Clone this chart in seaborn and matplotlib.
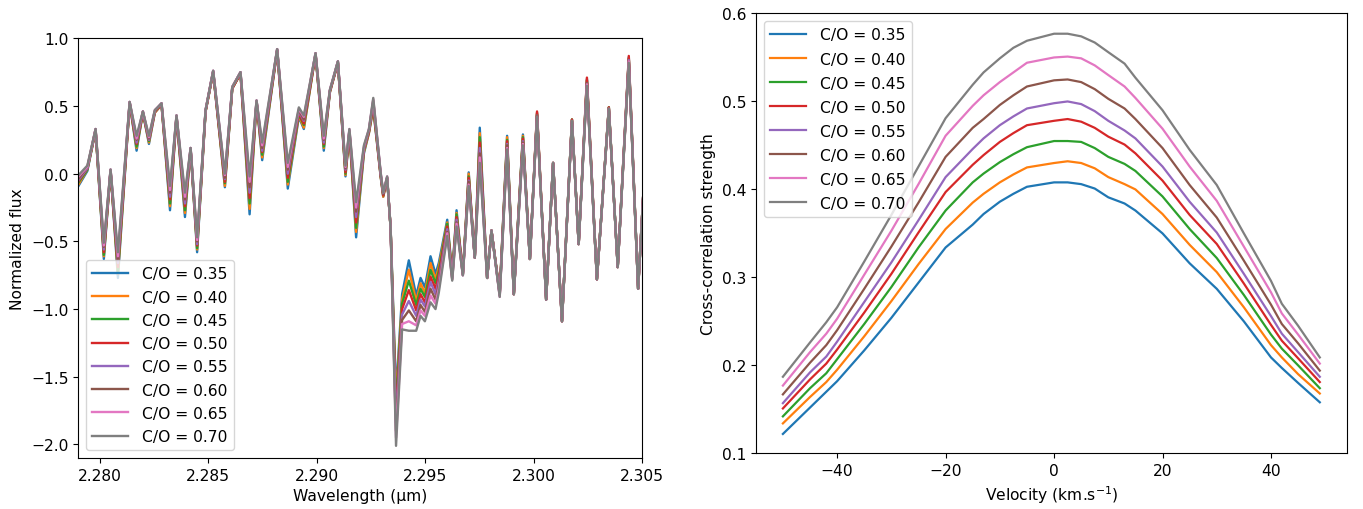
import numpy as np
import pandas as pd
import matplotlib
matplotlib.use("Agg")
import matplotlib.pyplot as plt
import seaborn as sns
from matplotlib.ticker import MultipleLocator, FormatStrFormatter

# C/O ratios of the models
co_ratios = [0.35, 0.40, 0.45, 0.50, 0.55, 0.60, 0.65, 0.70]

# --- left panel: model spectra ---
wavelength = [2.2789, 2.27942, 2.27980, 2.28018, 2.28049, 2.28083, 2.28137, 2.28169, 2.28198, 2.28226,
              2.28253, 2.28284, 2.28323, 2.28353, 2.28392, 2.28418, 2.28448, 2.28487, 2.28522, 2.28576,
              2.28610, 2.28648, 2.28690, 2.28722, 2.28748, 2.28817, 2.28866, 2.28917, 2.28940, 2.28994,
              2.29032, 2.29060, 2.29097, 2.29132, 2.29150, 2.29181, 2.29217, 2.29240, 2.29260, 2.29294,
              2.29306, 2.29324, 2.29340, 2.29365, 2.29393, 2.29424, 2.29458, 2.29478, 2.29498, 2.29524,
              2.29547, 2.29562, 2.29601, 2.29624, 2.29644, 2.29673, 2.29700, 2.29728, 2.29751, 2.29785,
              2.29805, 2.29843, 2.29877, 2.29908, 2.29950, 2.29982, 2.30015, 2.30057, 2.30089, 2.30130,
              2.30176, 2.30207, 2.30245, 2.30291, 2.30346, 2.30387, 2.30438, 2.30481, 2.30510]

flux_035 = [-0.12, 0.02, 0.32, -0.63, 0.02, -0.77, 0.52, 0.17, 0.45, 0.22,
            0.45, 0.51, -0.27, 0.42, -0.32, 0.18, -0.58, 0.46, 0.75, -0.10,
            0.63, 0.74, -0.30, 0.53, 0.10, 0.91, -0.11, 0.42, 0.33, 0.88,
            0.17, 0.60, 0.82, -0.02, 0.30, -0.47, 0.15, 0.30, 0.48, -0.02,
            -0.17, -0.04, -0.40, -1.62, -0.89, -0.64, -0.90, -0.77, -0.84, -0.61,
            -0.74, -0.66, -0.34, -0.74, -0.27, -0.74, 0.01, -0.62, 0.34, -0.77,
            -0.42, -0.88, 0.28, -0.89, 0.29, -0.63, 0.45, -0.93, 0.08, -1.09,
            0.40, -0.52, 0.70, -0.78, 0.49, -0.69, 0.86, -0.85, 0.00]
flux_040 = [-0.11, 0.03, 0.32, -0.61, 0.02, -0.74, 0.52, 0.19, 0.45, 0.23,
            0.45, 0.51, -0.24, 0.42, -0.29, 0.18, -0.56, 0.46, 0.75, -0.09,
            0.63, 0.74, -0.26, 0.53, 0.12, 0.91, -0.08, 0.43, 0.34, 0.88,
            0.19, 0.60, 0.82, -0.01, 0.30, -0.43, 0.16, 0.30, 0.49, -0.02,
            -0.17, -0.04, -0.40, -1.68, -0.93, -0.71, -0.94, -0.81, -0.88, -0.66,
            -0.78, -0.69, -0.36, -0.75, -0.29, -0.74, 0.00, -0.62, 0.30, -0.77,
            -0.42, -0.88, 0.27, -0.89, 0.28, -0.63, 0.45, -0.93, 0.08, -1.09,
            0.40, -0.52, 0.69, -0.78, 0.49, -0.69, 0.85, -0.85, 0.00]
flux_045 = [-0.09, 0.03, 0.32, -0.60, 0.02, -0.72, 0.52, 0.20, 0.45, 0.24,
            0.46, 0.51, -0.22, 0.42, -0.27, 0.18, -0.55, 0.46, 0.75, -0.07,
            0.63, 0.74, -0.22, 0.53, 0.14, 0.91, -0.06, 0.44, 0.36, 0.88,
            0.20, 0.61, 0.82, 0.00, 0.31, -0.40, 0.17, 0.31, 0.50, -0.01,
            -0.16, -0.03, -0.40, -1.73, -0.96, -0.79, -0.97, -0.85, -0.91, -0.71,
            -0.81, -0.72, -0.37, -0.75, -0.30, -0.74, -0.02, -0.62, 0.27, -0.77,
            -0.42, -0.89, 0.25, -0.89, 0.27, -0.63, 0.44, -0.93, 0.08, -1.09,
            0.40, -0.52, 0.69, -0.78, 0.49, -0.69, 0.85, -0.85, 0.00]
flux_050 = [-0.08, 0.04, 0.32, -0.58, 0.02, -0.69, 0.52, 0.22, 0.45, 0.25,
            0.46, 0.51, -0.19, 0.42, -0.24, 0.18, -0.53, 0.46, 0.75, -0.06,
            0.63, 0.74, -0.18, 0.53, 0.16, 0.91, -0.03, 0.45, 0.37, 0.88,
            0.22, 0.61, 0.82, 0.01, 0.31, -0.36, 0.18, 0.31, 0.51, -0.01,
            -0.16, -0.03, -0.40, -1.79, -1.00, -0.86, -1.01, -0.89, -0.95, -0.76,
            -0.85, -0.75, -0.39, -0.76, -0.32, -0.74, -0.03, -0.62, 0.23, -0.77,
            -0.42, -0.89, 0.24, -0.89, 0.26, -0.63, 0.46, -0.93, 0.08, -1.09,
            0.40, -0.52, 0.71, -0.78, 0.49, -0.69, 0.87, -0.85, 0.00]
flux_055 = [-0.07, 0.04, 0.33, -0.56, 0.03, -0.66, 0.53, 0.23, 0.46, 0.25,
            0.46, 0.52, -0.17, 0.43, -0.22, 0.19, -0.52, 0.47, 0.76, -0.04,
            0.64, 0.75, -0.14, 0.54, 0.17, 0.92, 0.00, 0.46, 0.39, 0.89,
            0.23, 0.61, 0.83, 0.03, 0.32, -0.32, 0.18, 0.32, 0.53, 0.00,
            -0.15, -0.03, -0.40, -1.84, -1.04, -0.94, -1.05, -0.93, -0.98, -0.80,
            -0.89, -0.79, -0.41, -0.77, -0.34, -0.75, -0.05, -0.62, 0.19, -0.77,
            -0.42, -0.90, 0.22, -0.89, 0.24, -0.63, 0.43, -0.93, 0.08, -1.09,
            0.39, -0.52, 0.67, -0.78, 0.48, -0.69, 0.84, -0.85, 0.00]
flux_060 = [-0.06, 0.05, 0.33, -0.54, 0.03, -0.63, 0.53, 0.25, 0.46, 0.26,
            0.46, 0.52, -0.14, 0.43, -0.19, 0.19, -0.50, 0.47, 0.76, -0.03,
            0.64, 0.75, -0.10, 0.54, 0.19, 0.92, 0.03, 0.47, 0.40, 0.89,
            0.25, 0.61, 0.83, 0.04, 0.32, -0.28, 0.19, 0.32, 0.54, 0.00,
            -0.15, -0.03, -0.40, -1.90, -1.08, -1.01, -1.09, -0.97, -1.02, -0.85,
            -0.93, -0.82, -0.43, -0.78, -0.36, -0.75, -0.06, -0.62, 0.15, -0.77,
            -0.42, -0.90, 0.21, -0.89, 0.23, -0.63, 0.43, -0.93, 0.08, -1.09,
            0.39, -0.52, 0.67, -0.78, 0.48, -0.69, 0.83, -0.85, 0.00]
flux_065 = [-0.04, 0.05, 0.33, -0.53, 0.03, -0.61, 0.53, 0.26, 0.46, 0.27,
            0.47, 0.52, -0.12, 0.43, -0.17, 0.19, -0.49, 0.47, 0.76, -0.01,
            0.64, 0.75, -0.06, 0.54, 0.21, 0.92, 0.05, 0.48, 0.42, 0.89,
            0.26, 0.62, 0.83, 0.05, 0.33, -0.25, 0.20, 0.33, 0.55, 0.01,
            -0.14, -0.02, -0.40, -1.95, -1.11, -1.09, -1.12, -1.01, -1.05, -0.90,
            -0.96, -0.85, -0.44, -0.78, -0.37, -0.75, -0.08, -0.62, 0.12, -0.77,
            -0.42, -0.91, 0.19, -0.89, 0.22, -0.63, 0.42, -0.93, 0.08, -1.09,
            0.39, -0.52, 0.66, -0.78, 0.48, -0.69, 0.83, -0.85, 0.00]
flux_070 = [-0.03, 0.06, 0.33, -0.51, 0.03, -0.58, 0.53, 0.28, 0.46, 0.28,
            0.47, 0.52, -0.09, 0.43, -0.14, 0.19, -0.47, 0.47, 0.76, 0.00,
            0.64, 0.75, -0.02, 0.54, 0.23, 0.92, 0.08, 0.49, 0.43, 0.89,
            0.28, 0.62, 0.83, 0.06, 0.33, -0.21, 0.21, 0.33, 0.56, 0.01,
            -0.14, -0.02, -0.40, -2.01, -1.15, -1.16, -1.16, -1.05, -1.09, -0.95,
            -1.00, -0.88, -0.46, -0.79, -0.39, -0.75, -0.09, -0.62, 0.08, -0.77,
            -0.42, -0.91, 0.18, -0.89, 0.21, -0.63, 0.42, -0.93, 0.08, -1.09,
            0.39, -0.52, 0.65, -0.78, 0.48, -0.69, 0.82, -0.85, 0.00]

# --- right panel: cross-correlation functions ---
velocity = [-50, -45, -42, -40, -35, -30, -25, -20, -15, -13, -10, -7.5, -5, 0,
            2.5, 5, 7.5, 10, 13, 15, 20, 25, 30, 35, 40, 42, 45, 49]

ccf_035 = [0.122, 0.152, 0.170, 0.182, 0.217, 0.254, 0.294, 0.334, 0.360, 0.372, 0.386, 0.395, 0.403, 0.408,
           0.408, 0.406, 0.401, 0.391, 0.384, 0.376, 0.350, 0.316, 0.287, 0.250, 0.209, 0.197, 0.180, 0.158]
ccf_040 = [0.134, 0.164, 0.181, 0.195, 0.233, 0.273, 0.315, 0.355, 0.385, 0.395, 0.408, 0.417, 0.425, 0.430,
           0.432, 0.430, 0.424, 0.414, 0.406, 0.400, 0.372, 0.337, 0.306, 0.266, 0.223, 0.209, 0.190, 0.168]
ccf_045 = [0.142, 0.174, 0.191, 0.207, 0.247, 0.289, 0.334, 0.376, 0.408, 0.418, 0.431, 0.440, 0.448, 0.455,
           0.455, 0.454, 0.447, 0.437, 0.429, 0.421, 0.392, 0.355, 0.322, 0.280, 0.235, 0.219, 0.200, 0.174]
ccf_050 = [0.151, 0.184, 0.202, 0.218, 0.260, 0.304, 0.351, 0.397, 0.428, 0.439, 0.454, 0.464, 0.473, 0.478,
           0.480, 0.477, 0.470, 0.460, 0.451, 0.441, 0.410, 0.371, 0.338, 0.293, 0.246, 0.228, 0.208, 0.181]
ccf_055 = [0.157, 0.192, 0.210, 0.227, 0.272, 0.317, 0.365, 0.414, 0.446, 0.458, 0.473, 0.483, 0.492, 0.498,
           0.500, 0.497, 0.489, 0.478, 0.467, 0.458, 0.426, 0.386, 0.351, 0.304, 0.256, 0.236, 0.215, 0.187]
ccf_060 = [0.167, 0.203, 0.223, 0.240, 0.287, 0.335, 0.385, 0.437, 0.470, 0.480, 0.496, 0.507, 0.517, 0.524,
           0.525, 0.522, 0.514, 0.503, 0.492, 0.480, 0.447, 0.405, 0.368, 0.319, 0.269, 0.247, 0.225, 0.194]
ccf_065 = [0.177, 0.215, 0.236, 0.253, 0.303, 0.353, 0.406, 0.461, 0.495, 0.507, 0.522, 0.533, 0.544, 0.550,
           0.551, 0.549, 0.541, 0.530, 0.517, 0.504, 0.469, 0.426, 0.387, 0.335, 0.283, 0.259, 0.235, 0.202]
ccf_070 = [0.187, 0.226, 0.249, 0.266, 0.318, 0.371, 0.426, 0.481, 0.519, 0.533, 0.549, 0.561, 0.569, 0.577,
           0.577, 0.574, 0.567, 0.556, 0.543, 0.527, 0.490, 0.445, 0.405, 0.350, 0.296, 0.270, 0.245, 0.209]

spectra = [flux_035, flux_040, flux_045, flux_050, flux_055, flux_060, flux_065, flux_070]
ccfs = [ccf_035, ccf_040, ccf_045, ccf_050, ccf_055, ccf_060, ccf_065, ccf_070]

plt.rcParams['font.family'] = ['DejaVu Sans']
plt.rcParams['font.size'] = 11.2

fig = plt.figure(figsize=(13.63, 5.1), dpi=100)
ax1 = fig.add_axes([0.0574, 0.100, 0.4138, 0.8229])
ax2 = fig.add_axes([0.5547, 0.1092, 0.4333, 0.8624])

palette = sns.color_palette("tab10", 8)

for co, flux, col in zip(co_ratios, spectra, palette):
    sns.lineplot(x=wavelength, y=flux, ax=ax1, color=col, lw=1.7, label=f"C/O = {co:.2f}")

for co, ccf, col in zip(co_ratios, ccfs, palette):
    sns.lineplot(x=velocity, y=ccf, ax=ax2, color=col, lw=1.6, label=f"C/O = {co:.2f}")

# left panel styling
ax1.set_xlim(2.279, 2.305)
ax1.set_ylim(-2.1, 1.0)
ax1.xaxis.set_major_locator(MultipleLocator(0.005))
ax1.xaxis.set_major_formatter(FormatStrFormatter('%.3f'))
ax1.yaxis.set_major_locator(MultipleLocator(0.5))
ax1.set_xlabel("Wavelength (μm)")
ax1.set_ylabel("Normalized flux")
ax1.legend(loc="lower left", handlelength=2.3, handletextpad=0.9, labelspacing=0.53)

# right panel styling
ax2.set_ylim(0.1, 0.6)
ax2.set_xlabel("Velocity (km.s$^{-1}$)")
ax2.set_ylabel("Cross-correlation strength")
ax2.legend(loc="upper left", handlelength=2.3, handletextpad=0.9, labelspacing=0.58)

fig.savefig("out.png", dpi=100)
